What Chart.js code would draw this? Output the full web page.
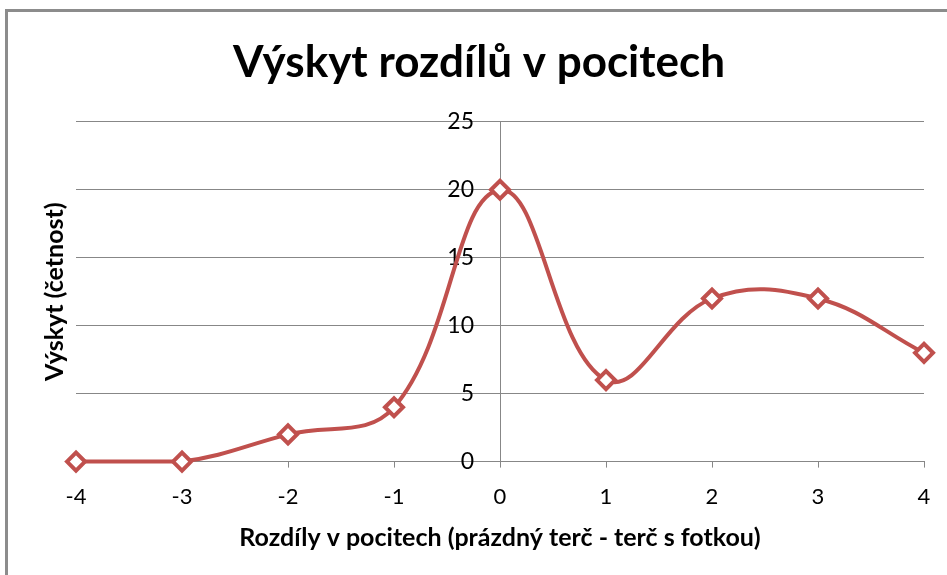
<!DOCTYPE html>
<html>
<head>
<meta charset="utf-8">
<script src="https://cdn.jsdelivr.net/npm/chart.js@4.4.1/dist/chart.umd.min.js"></script>
<style>
  html, body { margin: 0; padding: 0; background: #ffffff; }
  #wrap { position: relative; width: 947px; height: 575px; }
</style>
</head>
<body>
<div id="wrap"><canvas id="c" width="947" height="575"></canvas></div>
<script>
const chartTitle = "Výskyt rozdílů v pocitech";
const xAxisTitle = "Rozdíly v pocitech (prázdný terč - terč s fotkou)";
const yAxisTitle = "Výskyt (četnost)";
const categories = [-4, -3, -2, -1, 0, 1, 2, 3, 4];
const frequencies = [0, 0, 2, 4, 20, 6, 12, 12, 8];
const yTicks = [0, 5, 10, 15, 20, 25];

const FONT = "Lato, 'Open Sans', sans-serif";
const RED = "#C0504D";
const GRID = "#878787";

const framePlugin = {
  id: "frame",
  beforeDraw(chart) {
    const ctx = chart.ctx;
    ctx.save();
    ctx.fillStyle = "#ffffff";
    ctx.fillRect(0, 0, chart.width, chart.height);
    ctx.strokeStyle = "#8c8c8c";
    ctx.lineWidth = 3;
    ctx.beginPath();
    ctx.moveTo(6.5, chart.height + 5);
    ctx.lineTo(6.5, 10.5);
    ctx.lineTo(chart.width + 5, 10.5);
    ctx.stroke();
    ctx.restore();
  }
};

new Chart(document.getElementById("c"), {
  type: "line",
  data: {
    datasets: [{
      data: categories.map((c, i) => ({ x: c, y: frequencies[i] })),
      borderColor: RED,
      borderWidth: 4,
      tension: 0.4,
      pointStyle: "rectRot",
      pointRadius: 9,
      pointBorderWidth: 4,
      pointBackgroundColor: "#ffffff",
      pointBorderColor: RED,
      clip: false,
      fill: false
    }]
  },
  options: {
    responsive: false,
    animation: false,
    devicePixelRatio: 1,
    layout: { padding: { top: 0, right: 23, bottom: 20, left: 34 } },
    plugins: {
      legend: { display: false },
      tooltip: { enabled: false },
      title: {
        display: true,
        text: chartTitle,
        color: "#000000",
        font: { family: FONT, size: 44, weight: "bold" },
        padding: { top: 36, bottom: 33 }
      }
    },
    scales: {
      x: {
        type: "linear",
        min: -4,
        max: 4,
        ticks: {
          stepSize: 1,
          color: "#000000",
          padding: 16,
          font: { family: FONT, size: 22 }
        },
        grid: {
          drawOnChartArea: true,
          drawTicks: true,
          tickLength: 6,
          tickColor: GRID,
          color: (ctx) => (ctx.tick && ctx.tick.value === 0 ? GRID : "rgba(0,0,0,0)")
        },
        border: { display: true, color: GRID },
        title: {
          display: true,
          text: xAxisTitle,
          color: "#000000",
          font: { family: FONT, size: 25, weight: "bold" },
          padding: { top: -3, bottom: 2 }
        }
      },
      y: {
        type: "linear",
        position: { x: -0.245 },
        min: 0,
        max: 25,
        afterBuildTicks(axis) { axis.ticks = yTicks.map(v => ({ value: v })); },
        ticks: {
          color: "#000000",
          padding: 0,
          font: { family: FONT, size: 23 }
        },
        grid: { drawTicks: false, color: GRID },
        border: { display: false }
      },
      yTitle: {
        type: "linear",
        position: "left",
        display: true,
        min: 0,
        max: 25,
        ticks: { display: false },
        grid: { display: false, drawTicks: false },
        border: { display: false },
        title: {
          display: true,
          text: yAxisTitle,
          color: "#000000",
          font: { family: FONT, size: 25, weight: "bold" },
          padding: { top: 6, bottom: 6 }
        }
      }
    }
  },
  plugins: [framePlugin]
});
</script>
</body>
</html>
